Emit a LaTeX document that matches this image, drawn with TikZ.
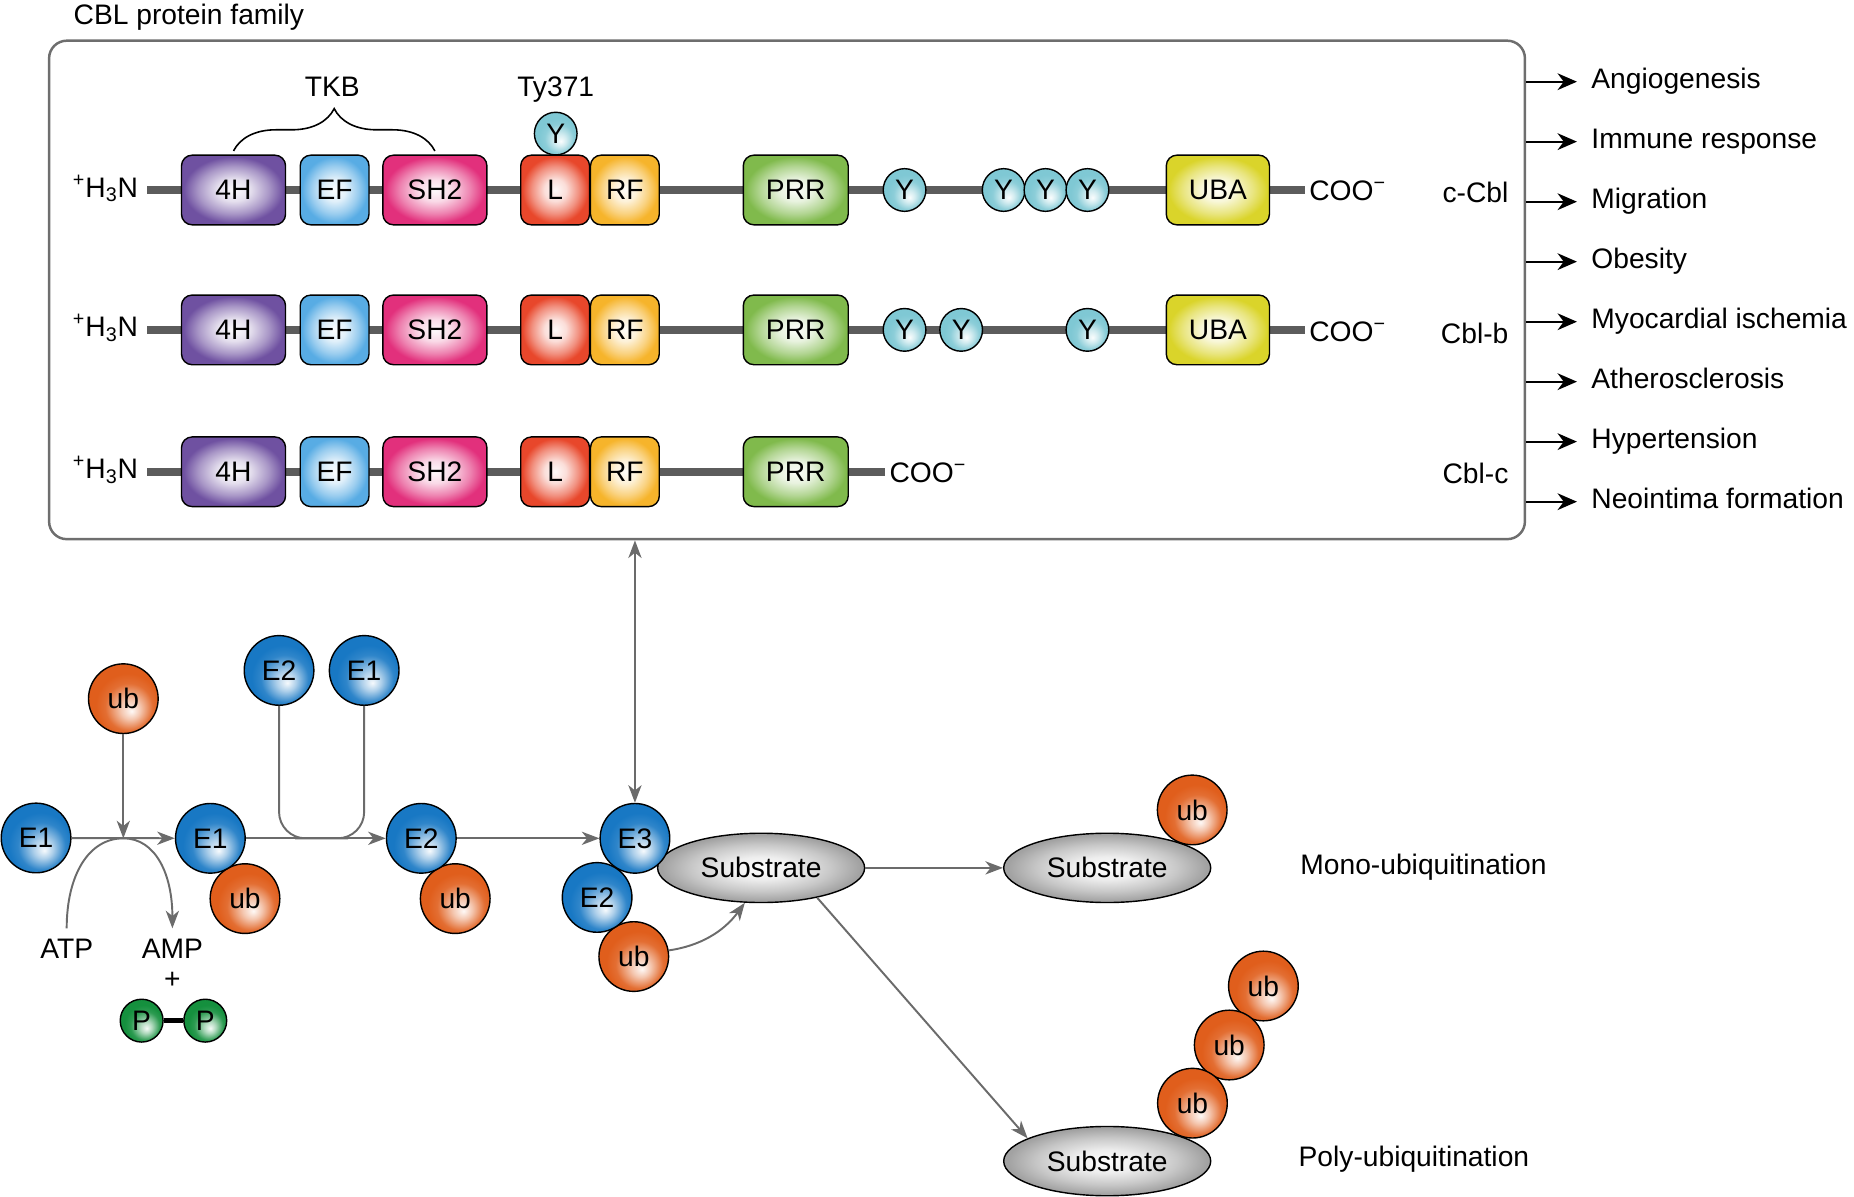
\documentclass[tikz,border=0pt]{standalone}
\usepackage{fontspec}
\setmainfont{Liberation Sans}
\usetikzlibrary{arrows.meta,backgrounds,decorations.pathreplacing,shapes.geometric}

\definecolor{cfh}{HTML}{6F51A1}
\definecolor{cef}{HTML}{58ACE4}
\definecolor{csh}{HTML}{E2307C}
\definecolor{cli}{HTML}{E8472B}
\definecolor{crf}{HTML}{F6B42B}
\definecolor{cpr}{HTML}{80BA4C}
\definecolor{cuba}{HTML}{DAD42A}
\definecolor{cy}{HTML}{7FC8D4}
\definecolor{ce}{HTML}{1878C4}
\definecolor{cub}{HTML}{E05E1C}
\definecolor{cp}{HTML}{15903E}
\definecolor{csub}{HTML}{A2A2A2}
\definecolor{flowgray}{HTML}{6B6B6B}
\definecolor{linegray}{HTML}{5C5C5C}
\definecolor{framegray}{HTML}{6E6E6E}

\makeatletter
\pgfdeclareradialshading[tikz@ball]{glossy}{\pgfpoint{6bp}{-9bp}}{%
  color(0bp)=(tikz@ball!4!white);
  color(7bp)=(tikz@ball!35!white);
  color(17bp)=(tikz@ball!90!white);
  color(23bp)=(tikz@ball);
  color(50bp)=(tikz@ball)}
\pgfdeclareradialshading[tikz@ball]{glow}{\pgfpointorigin}{%
  color(0bp)=(tikz@ball!3!white);
  color(8bp)=(tikz@ball!18!white);
  color(17bp)=(tikz@ball!60!white);
  color(24bp)=(tikz@ball);
  color(50bp)=(tikz@ball)}
\makeatother

\tikzset{
	dom/.style 2 args={draw=black, line width=0.8pt, rounded corners=6pt,
		minimum width=#2, minimum height=39.5pt, ball color=#1, shading=glow},
	bead/.style 2 args={circle, draw=black, line width=0.8pt, minimum size=#2,
		ball color=#1, shading=glossy},
	subst/.style={ellipse, draw=black, line width=0.8pt, minimum width=117.4pt,
		minimum height=39.3pt, ball color=csub, shading=glow},
	flow/.style={color=flowgray, line width=1.1pt},
	backbone/.style={draw=linegray, line width=4.6pt, shorten <=5pt, shorten >=2.5pt},
	outarr/.style={color=black, line width=1pt, -{Stealth[length=11pt,width=9.5pt,inset=3.5pt]}, shorten >=8pt},
	outlab/.style={anchor=west, text height=11.6pt, text depth=3.4pt}
	}

\begin{document}
\begin{tikzpicture}[x=0.6706pt,y=-0.6706pt,>={Stealth[length=10pt,width=7.5pt,inset=3pt]}]
		% \draw[help lines] (0,0) grid (1568,1012);
		\path[use as bounding box] (0,0) rectangle (1568,1012);
		\tikzstyle{every node}=[font=\fontsize{16}{19}\selectfont, inner sep=0pt]
		
		%% Family frame
		\draw (665.6,245.2) node [draw=framegray, line width=1.4pt, rounded corners=10pt, minimum width=837pt, minimum height=282.7pt] (fam) {};
		\draw (62,21) node [anchor=base west] (title) {CBL protein family};
		
		%% Row one: c-Cbl
		\draw (117,166.7) node [anchor=base east] (hn1) {\textsuperscript{+}H\textsubscript{3}N};
		\draw (197.5,160.7) node [dom={cfh}{59pt}] (fh1) {4H};
		\draw (283,160.7) node [dom={cef}{39pt}] (ef1) {EF};
		\draw (367.8,160.7) node [dom={csh}{59pt}] (sh1) {SH2};
		\draw (469.5,160.7) node [dom={cli}{39pt}] (li1) {L};
		\draw (528.5,160.7) node [dom={crf}{39pt}] (rf1) {RF};
		\draw (673,160.7) node [dom={cpr}{59.5pt}] (pr1) {PRR};
		\draw (765,160.7) node [bead={cy}{24.2pt}] (ya1) {Y};
		\draw (848.8,160.7) node [bead={cy}{24.2pt}] (yb1) {Y};
		\draw (884.2,160.7) node [bead={cy}{24.2pt}] (yc1) {Y};
		\draw (919.7,160.7) node [bead={cy}{24.2pt}] (yd1) {Y};
		\draw (1030,160.7) node [dom={cuba}{58.5pt}] (uba1) {UBA};
		\draw (1107,169.7) node [anchor=base west] (co1) {COO\textsuperscript{−}};
		\draw (1276,162.6) node [anchor=east] (cc1) {c-Cbl};
		\draw (470,113) node [bead={cy}{24.2pt}] (ty) {Y};
		\draw (470,82) node [anchor=base] (tyl) {Ty371};
		\draw [decorate, decoration={brace, amplitude=24pt}, line width=0.9pt] ([yshift=2pt]fh1.north) -- ([yshift=2pt]sh1.north);
		\draw (281,82) node [anchor=base] (tkb) {TKB};
		
		%% Row two: Cbl-b
		\draw (117,285) node [anchor=base east] (hn2) {\textsuperscript{+}H\textsubscript{3}N};
		\draw (197.5,279) node [dom={cfh}{59pt}] (fh2) {4H};
		\draw (283,279) node [dom={cef}{39pt}] (ef2) {EF};
		\draw (367.8,279) node [dom={csh}{59pt}] (sh2) {SH2};
		\draw (469.5,279) node [dom={cli}{39pt}] (li2) {L};
		\draw (528.5,279) node [dom={crf}{39pt}] (rf2) {RF};
		\draw (673,279) node [dom={cpr}{59.5pt}] (pr2) {PRR};
		\draw (765,279) node [bead={cy}{24.2pt}] (ya2) {Y};
		\draw (812.9,279) node [bead={cy}{24.2pt}] (yb2) {Y};
		\draw (919.7,279) node [bead={cy}{24.2pt}] (yc2) {Y};
		\draw (1030,279) node [dom={cuba}{58.5pt}] (uba2) {UBA};
		\draw (1107,288.5) node [anchor=base west] (co2) {COO\textsuperscript{−}};
		\draw (1276,281.8) node [anchor=east] (cc2) {Cbl-b};
		
		%% Row three: Cbl-c
		\draw (117,405) node [anchor=base east] (hn3) {\textsuperscript{+}H\textsubscript{3}N};
		\draw (197.5,399) node [dom={cfh}{59pt}] (fh3) {4H};
		\draw (283,399) node [dom={cef}{39pt}] (ef3) {EF};
		\draw (367.8,399) node [dom={csh}{59pt}] (sh3) {SH2};
		\draw (469.5,399) node [dom={cli}{39pt}] (li3) {L};
		\draw (528.5,399) node [dom={crf}{39pt}] (rf3) {RF};
		\draw (673,399) node [dom={cpr}{59.5pt}] (pr3) {PRR};
		\draw (752,408) node [anchor=base west] (co3) {COO\textsuperscript{−}};
		\draw (1276,400) node [anchor=east] (cc3) {Cbl-c};
		
		\begin{scope}[on background layer]
			\draw [backbone] (hn1.east |- fh1) -- (co1.west |- fh1);
			\draw [backbone] (hn2.east |- fh2) -- (co2.west |- fh2);
			\draw [backbone] (hn3.east |- fh3) -- (co3.west |- fh3);
		\end{scope}
		
		%% Outcomes
		\draw (1345.6,69.1) node [outlab] (o1) {Angiogenesis};
		\draw (1345.6,119.8) node [outlab] (o2) {Immune response};
		\draw (1345.6,170.6) node [outlab] (o3) {Migration};
		\draw (1345.6,221.3) node [outlab] (o4) {Obesity};
		\draw (1345.6,272.1) node [outlab] (o5) {Myocardial ischemia};
		\draw (1345.6,322.8) node [outlab] (o6) {Atherosclerosis};
		\draw (1345.6,373.5) node [outlab] (o7) {Hypertension};
		\draw (1345.6,424.3) node [outlab] (o8) {Neointima formation};
		\path [outarr] (fam.east |- o1) edge (o1);
		\path [outarr] (fam.east |- o2) edge (o2);
		\path [outarr] (fam.east |- o3) edge (o3);
		\path [outarr] (fam.east |- o4) edge (o4);
		\path [outarr] (fam.east |- o5) edge (o5);
		\path [outarr] (fam.east |- o6) edge (o6);
		\path [outarr] (fam.east |- o7) edge (o7);
		\path [outarr] (fam.east |- o8) edge (o8);
		
		%% Activation: E1
		\draw (30.5,708.7) node [bead={ce}{39.5pt}] (e1a) {E1};
		\draw (104.3,590.9) node [bead={cub}{39.5pt}] (ub0) {ub};
		\coordinate (j1) at (104.3,709);
		\draw (207.2,760) node [bead={cub}{39.5pt}] (ub1) {ub};
		\draw (177.9,709) node [bead={ce}{39.5pt}] (e1b) {E1};
		\draw (56.4,802.6) node (atp) {ATP};
		\draw (145.8,802.6) node (amp) {AMP};
		\draw (145.8,828.8) node (plus) {+};
		\draw (119.8,863.2) node [bead={cp}{24.3pt}] (pa) {P};
		\draw (173.6,863.2) node [bead={cp}{24.3pt}] (pb) {P};
		\path [line width=3pt] (pa) edge (pb);
		\path [flow,->] (e1a) edge (e1b);
		\path [flow,->] (ub0) edge (j1);
		\draw [flow,->] ([yshift=6pt]atp.north) .. controls (56.4,740) and (75,709) .. (j1) .. controls (132,709) and (145.8,740) .. ([yshift=6pt]amp.north);
		
		%% Conjugation: E2
		\draw (236,567) node [bead={ce}{39.5pt}] (e2t) {E2};
		\draw (308,567) node [bead={ce}{39.5pt}] (e1t) {E1};
		\coordinate (j2) at (272,709);
		\draw (385,760) node [bead={cub}{39.5pt}] (ub2) {ub};
		\draw (356.3,709) node [bead={ce}{39.5pt}] (e2b) {E2};
		\draw [flow, rounded corners=15pt] (e2t) |- (j2) -| (e1t);
		\path [flow,->] (e1b) edge (e2b);
		
		%% Ligation: E3
		\draw (643.7,734) node [subst] (sub1) {Substrate};
		\draw (536,809) node [bead={cub}{39.5pt}] (ub3) {ub};
		\draw (505,759) node [bead={ce}{39.5pt}] (e2c) {E2};
		\draw (537,709) node [bead={ce}{39.5pt}] (e3) {E3};
		\path [flow,->] (e2b) edge (e3);
		\path [flow,<->] (fam.south -| e3) edge (e3);
		\draw [flow,->] (ub3.10) .. controls (592,800) and (612,788) .. (sub1.245);
		
		%% Products
		\draw (1008.3,685) node [bead={cub}{39.5pt}] (ub4) {ub};
		\draw (936.4,734) node [subst] (sub2) {Substrate};
		\path [flow,->] (sub1) edge (sub2);
		\draw (1068.5,833.9) node [bead={cub}{39.5pt}] (ub7) {ub};
		\draw (1039.6,883.8) node [bead={cub}{39.5pt}] (ub6) {ub};
		\draw (1008.5,933) node [bead={cub}{39.5pt}] (ub5) {ub};
		\draw (936.4,982) node [subst] (sub3) {Substrate};
		\path [flow,->] (sub1.-28) edge (sub3.164);
		\draw (1099.5,740) node [anchor=base west] (mono) {Mono-ubiquitination};
		\draw (1098,986.7) node [anchor=base west] (poly) {Poly-ubiquitination};
		
	\end{tikzpicture}
\end{document}
